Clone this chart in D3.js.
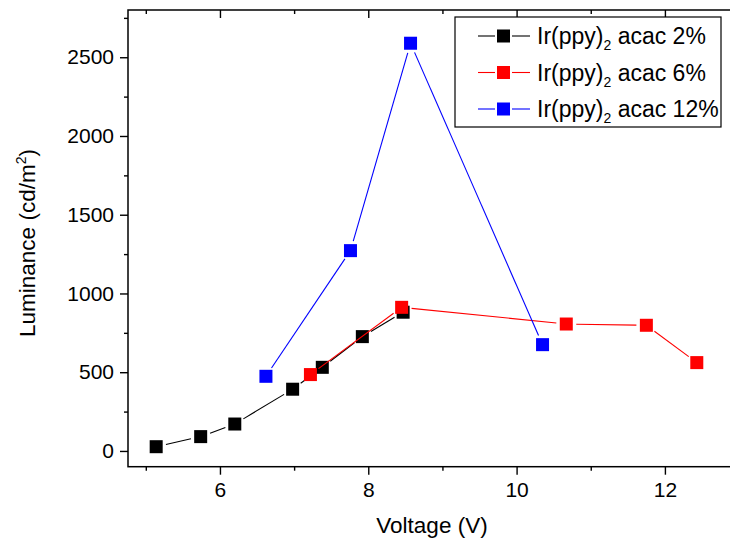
<!DOCTYPE html>
<html>
<head>
<meta charset="utf-8">
<script src="https://cdn.jsdelivr.net/npm/d3@7"></script>
<style>
  body { margin: 0; background: #fff; overflow: hidden; }
  svg { display: block; font-family: "Liberation Sans", Arial, sans-serif; }
</style>
</head>
<body>
<div id="container"></div>
<script>
/* global d3*/

const width = 730;
const height = 544;

// data: voltage (V), luminance (cd/m2)
const voltage2 = [5.14, 5.74, 6.2, 6.98, 7.38, 7.92, 8.47];
const lum2 = [27, 91, 171, 392, 531, 726, 881];
const voltage6 = [7.22, 8.45, 10.67, 11.75, 12.43];
const lum6 = [485, 912, 806, 798, 561];
const voltage12 = [6.62, 7.76, 8.57, 10.35];
const lum12 = [474, 1272, 2589, 675];

const seriesNames = ["2%", "6%", "12%"];
const seriesColors = ["#000000", "#ff0000", "#0000ff"];

const xMajor = [6, 8, 10, 12];
const xMinor = [5, 7, 9, 11, 13];
const yMajor = [0, 500, 1000, 1500, 2000, 2500];
const yMinor = [250, 750, 1250, 1750, 2250, 2750];

const series = [
  { name: seriesNames[0], color: seriesColors[0], pts: voltage2.map((v, i) => [v, lum2[i]]) },
  { name: seriesNames[1], color: seriesColors[1], pts: voltage6.map((v, i) => [v, lum6[i]]) },
  { name: seriesNames[2], color: seriesColors[2], pts: voltage12.map((v, i) => [v, lum12[i]]) }
];

// plot box (right edge falls outside the window, as in the cropped original)
const plotLeft = 128, plotRight = 745, plotTop = 10, plotBottom = 466.7;
const markerSize = 13;
const gap = 10; // line stops this far from a marker centre

const svg = d3.select("#container")
  .append("svg")
  .attr("width", width)
  .attr("height", height);

const x = d3.scaleLinear([4.76, 13.08], [plotLeft, plotRight]);
const y = d3.scaleLinear([-100, 2800], [plotBottom, plotTop]);

// axes: major + minor ticks, outward on left/bottom, inward on top
function styleAxis(g) {
  g.select(".domain").remove();
  g.selectAll("line").attr("stroke", "#000").attr("stroke-width", 1.4);
  g.selectAll("text").attr("font-size", 21).attr("fill", "#000")
    .attr("font-family", "Liberation Sans, Arial, sans-serif");
}

svg.append("g")
  .attr("transform", `translate(0,${plotBottom})`)
  .call(d3.axisBottom(x).tickValues(xMajor).tickSize(8).tickPadding(7).tickFormat(d3.format("d")))
  .call(styleAxis);
svg.append("g")
  .attr("transform", `translate(0,${plotBottom})`)
  .call(d3.axisBottom(x).tickValues(xMinor).tickSize(4).tickFormat(""))
  .call(styleAxis);

svg.append("g")
  .attr("transform", `translate(${plotLeft},0)`)
  .call(d3.axisLeft(y).tickValues(yMajor).tickSize(8).tickPadding(6).tickFormat(d3.format("d")))
  .call(styleAxis);
svg.append("g")
  .attr("transform", `translate(${plotLeft},0)`)
  .call(d3.axisLeft(y).tickValues(yMinor).tickSize(4).tickFormat(""))
  .call(styleAxis);

svg.append("g")
  .attr("transform", `translate(0,${plotTop})`)
  .call(d3.axisTop(x).tickValues(xMajor).tickSize(-8).tickFormat(""))
  .call(styleAxis);
svg.append("g")
  .attr("transform", `translate(0,${plotTop})`)
  .call(d3.axisTop(x).tickValues(xMinor).tickSize(-4).tickFormat(""))
  .call(styleAxis);

// frame
svg.append("rect")
  .attr("x", plotLeft).attr("y", plotTop)
  .attr("width", plotRight - plotLeft).attr("height", plotBottom - plotTop)
  .attr("fill", "none").attr("stroke", "#000").attr("stroke-width", 1.5);

// series: line segments with a gap around each marker, then markers
series.forEach((s) => {
  const px = s.pts.map((d) => [x(d[0]), y(d[1])]);
  const segs = d3.pairs(px).map(([a, b]) => {
    const dx = b[0] - a[0], dy = b[1] - a[1];
    const len = Math.hypot(dx, dy);
    const ux = dx / len, uy = dy / len;
    return [a[0] + ux * gap, a[1] + uy * gap, b[0] - ux * gap, b[1] - uy * gap];
  });
  const g = svg.append("g");
  g.selectAll("line")
    .data(segs)
    .enter()
    .append("line")
    .attr("x1", (d) => d[0]).attr("y1", (d) => d[1])
    .attr("x2", (d) => d[2]).attr("y2", (d) => d[3])
    .attr("stroke", s.color)
    .attr("stroke-width", 1.1);
  g.selectAll("rect")
    .data(s.pts)
    .enter()
    .append("rect")
    .attr("x", (d) => x(d[0]) - markerSize / 2)
    .attr("y", (d) => y(d[1]) - markerSize / 2)
    .attr("width", markerSize)
    .attr("height", markerSize)
    .attr("fill", s.color);
});

// axis titles
svg.append("text")
  .attr("x", 432).attr("y", 533)
  .attr("text-anchor", "middle")
  .attr("font-size", 22.5)
  .text("Voltage (V)");

const yTitle = svg.append("text")
  .attr("transform", "translate(35,243) rotate(-90)")
  .attr("text-anchor", "middle")
  .attr("font-size", 22.5);
yTitle.append("tspan").text("Luminance (cd/m");
yTitle.append("tspan").attr("font-size", 14).attr("dy", -9).text("2");
yTitle.append("tspan").attr("dy", 9).text(")");

// legend
const legend = svg.append("g");
legend.append("rect")
  .attr("x", 455).attr("y", 17)
  .attr("width", 266).attr("height", 110)
  .attr("fill", "#fff").attr("stroke", "#000").attr("stroke-width", 1.2);

const rows = legend.selectAll("g.row")
  .data(series)
  .enter()
  .append("g")
  .attr("class", "row")
  .attr("transform", (d, i) => `translate(0,${36 + i * 36.5})`);

rows.append("line").attr("x1", 478).attr("x2", 495).attr("y1", 0).attr("y2", 0)
  .attr("stroke", (d) => d.color).attr("stroke-width", 1.1);
rows.append("line").attr("x1", 512).attr("x2", 530).attr("y1", 0).attr("y2", 0)
  .attr("stroke", (d) => d.color).attr("stroke-width", 1.1);
rows.append("rect")
  .attr("x", 503.5 - markerSize / 2).attr("y", -markerSize / 2)
  .attr("width", markerSize).attr("height", markerSize)
  .attr("fill", (d) => d.color);

const label = rows.append("text")
  .attr("x", 537).attr("y", 8)
  .attr("font-size", 23);
label.append("tspan").text("Ir(ppy)");
label.append("tspan").attr("font-size", 14).attr("dy", 6).text("2");
label.append("tspan").attr("dy", -6).text((d) => ` acac ${d.name}`);
</script>
</body>
</html>
